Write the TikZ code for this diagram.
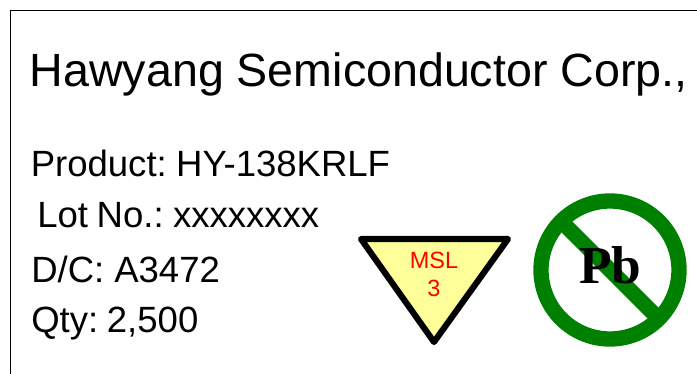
\documentclass[tikz,border=0pt]{standalone}
\usepackage{fontspec}
\setmainfont{Liberation Sans}
\newfontfamily\lblfont{Liberation Sans}[WordSpace=0.72]
\newfontfamily\pbfont{Liberation Serif}
\definecolor{ggreen}{RGB}{0,128,0}
\definecolor{lyellow}{RGB}{255,255,153}
\tikzset{
  lbl/.style={anchor=base west,inner sep=0pt,text=black,font=\lblfont\fontsize{27.4}{30}\selectfont},
  title/.style={anchor=base west,inner sep=0pt,text=black,font=\fontsize{34.95}{40}\selectfont},
  msl/.style={anchor=base,inner sep=0pt,text=red,font=\fontsize{17.6}{20}\selectfont},
  ring/.style={draw=ggreen,line width=11.5pt}
}
\begin{document}
\begin{tikzpicture}[x=0.75pt,y=-0.75pt]
\useasboundingbox (0,0) rectangle (697,374);
\draw[black,line width=1.3pt] (10.5,374) -- (10.5,10.5) -- (697,10.5);
\node[title] (t) at (29.5,87) {Hawyang Semiconductor Corp.,};
\node[lbl] (p) at (30.5,177) {Product:\hspace{-1pt} HY-138KRLF};
\node[lbl] (l) at (37,228) {Lot\hspace{1pt} No.:\hspace{-1pt} xxxxxxxx};
\node[lbl] (d) at (31,282.5) {D/C:\hspace{2pt} A3472};
\node[lbl] (q) at (31,333) {Qty:\hspace{-1.5pt} 2,500};
\draw[black,fill=lyellow,line width=4.6pt,line join=round] (361,239) -- (508,239) -- (434,342) -- cycle;
\node[msl] (m) at (434,269) {MSL};
\node[msl] (n) at (434,297) {3};
\draw[ring] (610,270) circle (69);
\draw[ggreen,line width=11.5pt] (561,221) -- (659,319);
\node[anchor=base,inner sep=0pt,text=black,font=\pbfont\bfseries\fontsize{40}{46}\selectfont] (pb) at (610.5,284) {Pb};
\end{tikzpicture}
\end{document}
